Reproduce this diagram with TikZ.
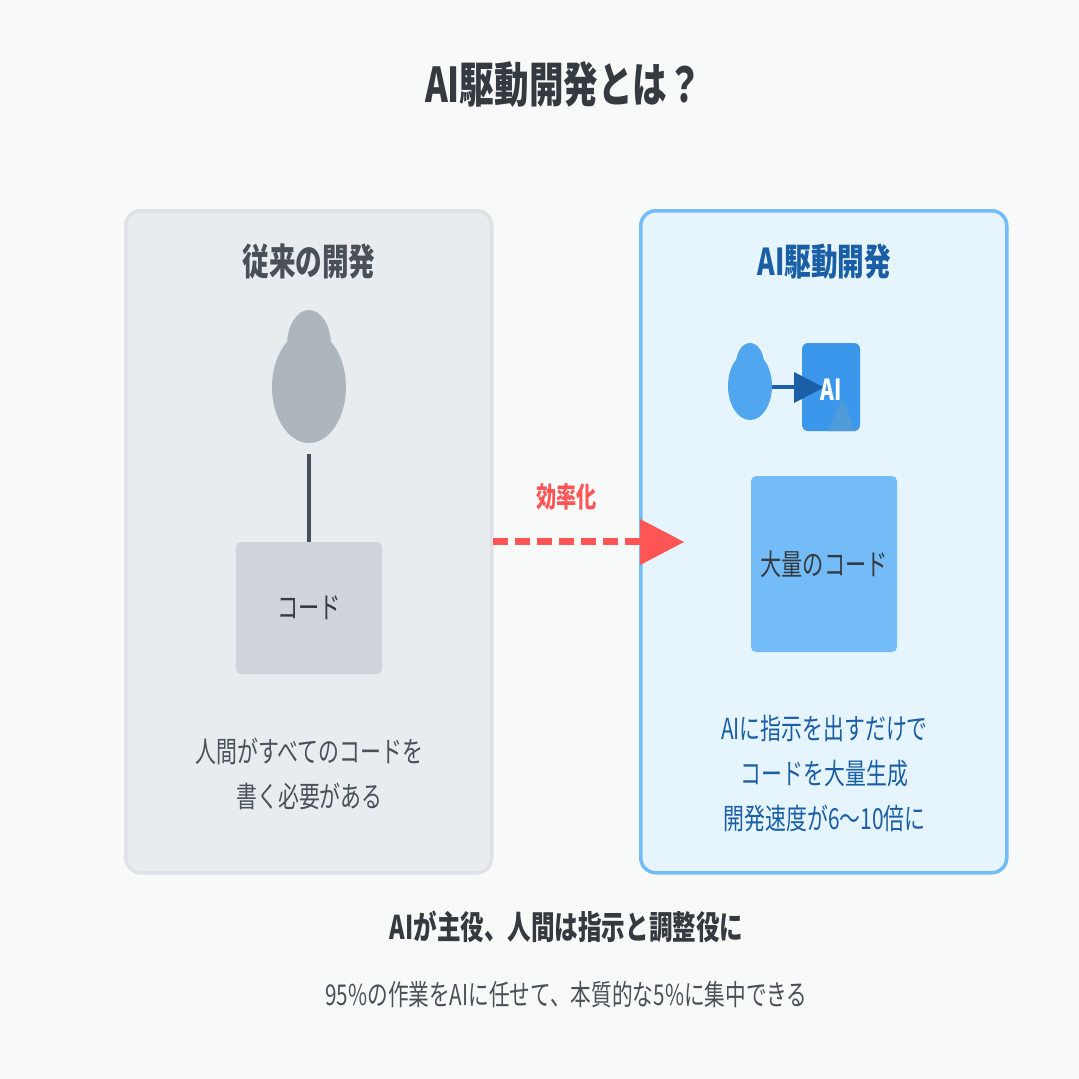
\documentclass[tikz,border=0pt]{standalone}
\usepackage{fontspec}
\setmainfont[FakeStretch=0.72]{Noto Sans CJK JP}
\usetikzlibrary{shapes.geometric}
\definecolor{bgc}{HTML}{F8FAF9}
\definecolor{lfill}{HTML}{E9ECEF}
\definecolor{lline}{HTML}{DEE2E6}
\definecolor{ltext}{HTML}{495057}
\definecolor{lshape}{HTML}{ADB5BD}
\definecolor{lbox}{HTML}{CED4DA}
\definecolor{rfill}{HTML}{E6F4FE}
\definecolor{rline}{HTML}{74BCF8}
\definecolor{rtext}{HTML}{1A5FA6}
\definecolor{rshape}{HTML}{50A6EF}
\definecolor{rcard}{HTML}{3A97EB}
\definecolor{rtri}{HTML}{4F9AD8}
\definecolor{rarrow}{HTML}{1B5FA8}
\definecolor{redc}{HTML}{FF5555}
\definecolor{dark}{HTML}{343A40}
\tikzset{
  x=1pt,y=-1pt,
  panel/.style={minimum width=#1,rounded corners=15pt,line width=3.5pt,inner sep=0pt,anchor=north west},
  blob/.style={ellipse,inner sep=0pt,draw=none},
  txt/.style={inner sep=0pt,align=center},
}
\begin{document}
\begin{tikzpicture}
\useasboundingbox (0,0) rectangle (1079,1079);
\fill[bgc] (0,0) rectangle (1079,1079);
\node[txt,text=dark,font=\fontsize{48}{54}\selectfont\bfseries] (title) at (563.5,84) {AI駆動開発とは？};
% left panel
\node[panel=366pt,minimum height=662pt,fill=lfill,draw=lline] (lp) at (124,209) {};
\node[txt,text=ltext,font=\fontsize{37}{42}\selectfont\bfseries] (lt) at (309,262) {従来の開発};
\node[blob,fill=lshape,minimum width=44pt,minimum height=70pt] (lhead) at (309,345) {};
\node[blob,fill=lshape,minimum width=74pt,minimum height=112pt] (lbody) at (309,387) {};
\node[fill=lbox,rounded corners=5pt,minimum width=146pt,minimum height=132pt,inner sep=0pt,text=dark,font=\fontsize{29.5}{36}\selectfont] (lbx) at (309,608) {コード};
\coordinate (lstart) at (309,454);
\draw[ltext,line width=4.5pt] (lstart) -- (lbx.north);
\node[txt,text=ltext,font=\fontsize{29}{45}\selectfont] (ldesc) at (309.5,774) {人間がすべてのコードを\\書く必要がある};
% right panel
\node[panel=366pt,minimum height=662pt,fill=rfill,draw=rline] (rp) at (639,209) {};
\node[txt,text=rtext,font=\fontsize{37}{42}\selectfont\bfseries] (rt) at (824.5,262) {AI駆動開発};
\node[blob,fill=rshape,minimum width=28pt,minimum height=42pt] (rhead) at (750,364) {};
\node[blob,fill=rshape,minimum width=44pt,minimum height=68pt] (rbody) at (750,386) {};
\node[fill=rcard,rounded corners=6pt,minimum width=58pt,minimum height=88pt,inner sep=0pt] (card) at (831,387) {};
\fill[rtri] (828,431) -- (842,399) -- (856,431) -- cycle;
\coordinate (rastart) at (772,387);
\coordinate (raend) at (795,387);
\draw[rarrow,line width=4.5pt] (rastart) -- (raend);
\fill[rarrow] (794,372) -- (824,387.5) -- (794,403) -- cycle;
\node[txt,text=white,font=\fontsize{29}{32}\selectfont\bfseries] (ai) at (831,389.5) {AI};
\node[fill=rline,rounded corners=5pt,minimum width=146pt,minimum height=176pt,inner sep=0pt,text=dark,font=\fontsize{29.5}{36}\selectfont] (rbx) at (824,564) {大量のコード};
\node[txt,text=rtext,font=\fontsize{29}{45}\selectfont] (rdesc) at (824.5,774) {AIに指示を出すだけで\\コードを大量生成\\開発速度が6～10倍に};
% arrow
\node[txt,text=redc,font=\fontsize{28}{32}\selectfont\bfseries] (eff) at (566.5,497) {効率化};
\coordinate (astart) at (493,541.5);
\coordinate (aend) at (640,541.5);
\draw[redc,line width=6.5pt,dash pattern=on 15pt off 7pt] (astart) -- (aend);
\fill[redc] (640,519) -- (684,542) -- (640,565) -- cycle;
% footer
\node[txt,text=dark,font=\fontsize{32.7}{38}\selectfont\bfseries] (f1) at (566.5,927) {AIが主役、人間は指示と調整役に};
\node[txt,text=ltext,font=\fontsize{28.7}{34}\selectfont] (f2) at (566.5,995) {95\%の作業をAIに任せて、本質的な5\%に集中できる};
\end{tikzpicture}
\end{document}
